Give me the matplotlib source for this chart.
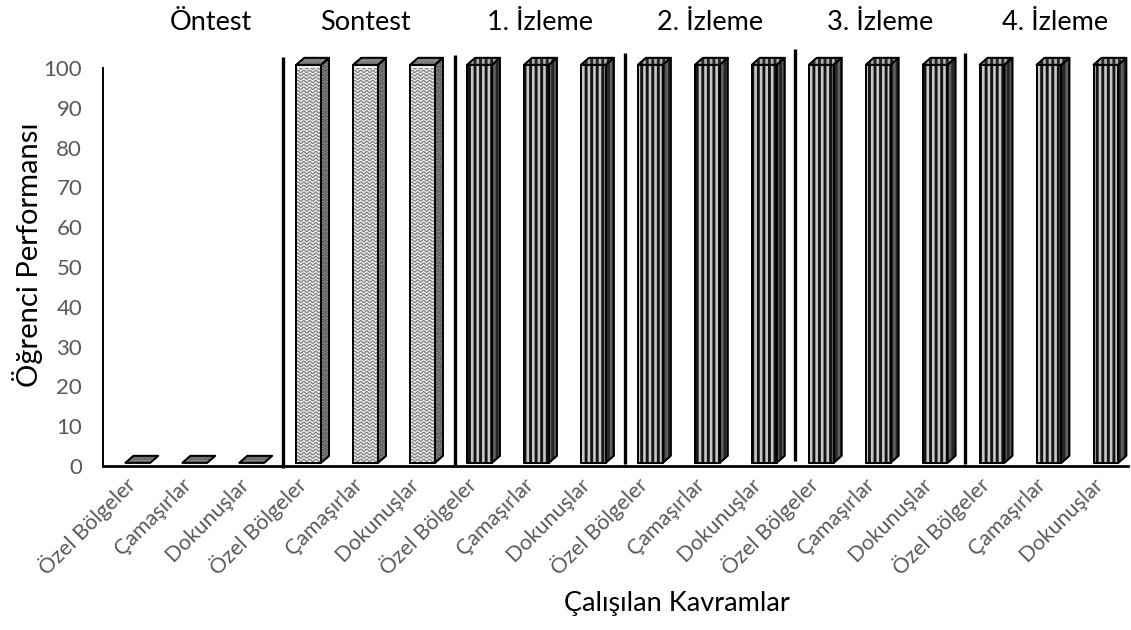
import numpy as np
import matplotlib.pyplot as plt
from matplotlib.patches import Polygon

plt.rcParams['font.family'] = ['Lato', 'DejaVu Sans']
plt.rcParams['hatch.linewidth'] = 2.1

# data
groups = ['Öntest', 'Sontest', '1. İzleme', '2. İzleme', '3. İzleme', '4. İzleme']
concepts = ['Özel Bölgeler', 'Çamaşırlar', 'Dokunuşlar']
group_values = [
    [0, 0, 0],
    [100, 100, 100],
    [100, 100, 100],
    [100, 100, 100],
    [100, 100, 100],
    [100, 100, 100],
]
styles = ['dots', 'wave', 'stripe', 'stripe', 'stripe', 'stripe']

labels = [c for g in groups for c in concepts]
values = [v for vals in group_values for v in vals]
bar_style = [s for s in styles for _ in concepts]

fig = plt.figure(figsize=(11.31, 6.30), dpi=100)
ax = fig.add_axes([103 / 1131, 1 - 466 / 630, 1025 / 1131, 398 / 630])
ax.set_xlim(-0.5, len(values) - 0.5)
ax.set_ylim(0, 100)

# fake 3d box
y0 = 0.8
dx, dy = 0.14, 1.76
xl, xr = -0.105, 0.33


def face(pts, fc, hatch=None, hc='black', z=3):
    p = Polygon(pts, closed=True, facecolor=fc, edgecolor='black', lw=1.3,
                joinstyle='round', clip_on=False, zorder=z)
    ax.add_patch(p)
    if hatch:
        h = Polygon(pts, closed=True, facecolor='none', edgecolor=hc, lw=0,
                    hatch=hatch, clip_on=False, zorder=z)
        ax.add_patch(h)
        o = Polygon(pts, closed=True, facecolor='none', edgecolor='black', lw=1.3,
                    joinstyle='round', clip_on=False, zorder=z + 0.5)
        ax.add_patch(o)
    return p


for i, (v, s) in enumerate(zip(values, bar_style)):
    a, b = i + xl, i + xr
    bot, top = y0, y0 + v
    front = [(a, bot), (b, bot), (b, top), (a, top)]
    side = [(b, bot), (b + dx, bot + dy), (b + dx, top + dy), (b, top)]
    lid = [(a, top), (b, top), (b + dx, top + dy), (a + dx, top + dy)]
    if s == 'dots':
        face(lid, '#8c8c8c', '....', '#5a5a5a')
    elif s == 'wave':
        fp = face(front, '#ececec')
        xs = np.linspace(a, b, 80)
        for yy in np.arange(bot + 0.6, top, 0.85):
            ln, = ax.plot(xs, yy + 0.28 * np.sin((xs - a) / 0.105 * 2 * np.pi),
                          color='#7a7a7a', lw=0.85, zorder=3.2, clip_on=True)
            ln.set_clip_path(fp)
        ax.add_patch(Polygon(front, closed=True, facecolor='none', edgecolor='black',
                             lw=1.4, clip_on=False, zorder=3.6))
        face(side, '#8a8a8a', '....', '#505050')
        face(lid, '#9a9a9a', '....', '#666666')
    else:
        face(front, '#c8c8c8', '|||', '#151515')
        face(side, '#606060', '|||', '#262626')
        face(lid, '#b0b0b0', '|||', '#262626')

# hand drawn dividers between phases
div_x = [2.66, 5.68, 8.67, 11.65, 14.64]
div_top = [102.8, 103.3, 103.8, 104.8, 103.8]
div_bot = [-0.5, 0.0, 0.5, 1.2, 0.5]
for x, t, b in zip(div_x, div_top, div_bot):
    ax.plot([x, x], [b, t], color='black', lw=2.4, clip_on=False, zorder=5,
            solid_capstyle='butt')

for sp in ['top', 'right']:
    ax.spines[sp].set_visible(False)
ax.spines['left'].set_linewidth(1.4)
ax.spines['bottom'].set_linewidth(2.0)
ax.spines['left'].set_zorder(1)

ax.set_yticks(range(0, 101, 10))
ax.set_xticks(range(len(labels)))
ax.set_xticklabels(labels, rotation=45, ha='right', va='center',
                   rotation_mode='anchor', color='#595959', fontsize=15.5)
ax.tick_params(axis='y', length=0, pad=15, labelsize=16, labelcolor='#595959')
ax.tick_params(axis='x', length=0, pad=11)

fig.text(28 / 1131, 1 - 255 / 630, 'Öğrenci Performansı', rotation=90,
         ha='center', va='center', fontsize=21)
fig.text(677 / 1131, 1 - 604 / 630, 'Çalışılan Kavramlar', ha='center',
         va='center', fontsize=19.5)

group_x = [211, 365, 540, 710, 880, 1055]
for g, gx in zip(groups, group_x):
    fig.text(gx / 1131, 1 - 22 / 630, g, ha='center', va='center', fontsize=19.5)

fig.savefig('out.png', dpi=100)
